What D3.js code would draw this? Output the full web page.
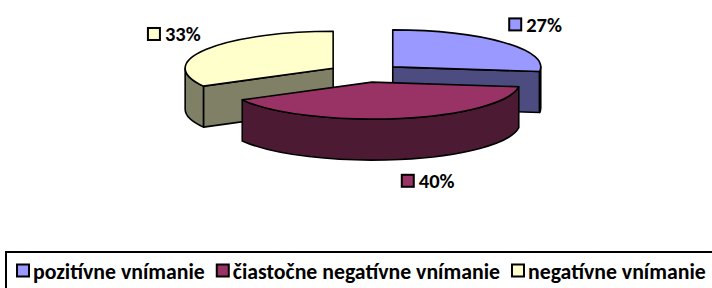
<!DOCTYPE html>
<html><head><meta charset="utf-8">
<script src="https://cdn.jsdelivr.net/npm/d3@7"></script>
<style>
html,body{margin:0;padding:0;background:#fff;}
svg{display:block;}
text{font-family:Carlito,Lato,"Open Sans",sans-serif;font-weight:bold;fill:#000;}
</style></head>
<body>
<svg id="c" width="712" height="288"></svg>
<script>
const categories = ["pozitívne vnímanie", "čiastočne negatívne vnímanie", "negatívne vnímanie"];
const values = [27, 40, 33];
const labels = ["27%", "40%", "33%"];
const topColors = ["#9999FF", "#993366", "#FFFFCC"];
const sideColors = ["#4C4C80", "#4D1A33", "#808066"];

const W = 712, H = 288;
const svg = d3.select("#c");
const cx = 365, cy = 73, rx = 148, ry = 37, depth = 41, explode = 0.25;

const pie = d3.pie().sort(null).value(d => d)(values);
const arcs = pie.map((p, i) => {
  const mid = (p.startAngle + p.endAngle) / 2;
  const ox = cx + explode * rx * Math.sin(mid);
  const oy = cy - explode * ry * Math.cos(mid);
  return {i, a0: p.startAngle, a1: p.endAngle, mid, ox, oy};
});
function pt(s, a, r = 1, dz = 0) {
  return [s.ox + r * rx * Math.sin(a), s.oy - r * ry * Math.cos(a) + dz];
}
function topPath(s) {
  const p0 = pt(s, s.a0), p1 = pt(s, s.a1);
  const large = (s.a1 - s.a0) > Math.PI ? 1 : 0;
  return `M${s.ox},${s.oy}L${p0}A${rx},${ry} 0 ${large} 1 ${p1}Z`;
}
function wallPath(s, b0, b1) {
  const p0 = pt(s, b0), p1 = pt(s, b1), q1 = pt(s, b1, 1, depth), q0 = pt(s, b0, 1, depth);
  const large = (b1 - b0) > Math.PI ? 1 : 0;
  return `M${p0}A${rx},${ry} 0 ${large} 1 ${p1}L${q1}A${rx},${ry} 0 ${large} 0 ${q0}Z`;
}
function radialPath(s, a) {
  const p = pt(s, a), q = pt(s, a, 1, depth);
  return `M${s.ox},${s.oy}L${p}L${q}L${s.ox},${s.oy + depth}Z`;
}

const order = arcs.slice().sort((a, b) => (-Math.cos(a.mid)) - (-Math.cos(b.mid)));
const g = svg.append("g");
const sw = 1.6;
order.forEach(s => {
  const gs = g.append("g");
  if (Math.cos(s.a0 - Math.PI / 2) < -1e-6)
    gs.append("path").attr("d", radialPath(s, s.a0)).attr("fill", sideColors[s.i]).attr("stroke", "#000").attr("stroke-width", sw).attr("stroke-linejoin", "round");
  if (Math.cos(s.a1 + Math.PI / 2) < -1e-6)
    gs.append("path").attr("d", radialPath(s, s.a1)).attr("fill", sideColors[s.i]).attr("stroke", "#000").attr("stroke-width", sw).attr("stroke-linejoin", "round");
  const b0 = Math.max(s.a0, Math.PI / 2), b1 = Math.min(s.a1, 3 * Math.PI / 2);
  if (b1 > b0)
    gs.append("path").attr("d", wallPath(s, b0, b1)).attr("fill", sideColors[s.i]).attr("stroke", "#000").attr("stroke-width", sw).attr("stroke-linejoin", "round");
  gs.append("path").attr("d", topPath(s)).attr("fill", topColors[s.i]).attr("stroke", "#000").attr("stroke-width", sw).attr("stroke-linejoin", "round");
});

// data labels
const fs = 20.5, mk = 12, gap = 4, kx = 1.04, ky = 1.45;
arcs.forEach(s => {
  const lg = svg.append("g");
  const t = lg.append("text").attr("font-size", fs).text(labels[s.i]);
  const tw = t.node().getComputedTextLength();
  const bw = mk + 2 + gap + tw, bh = 14;
  const sx = Math.sin(s.mid), cyv = Math.cos(s.mid);
  let px = s.ox + kx * rx * sx;
  let py = s.oy - ky * ry * cyv;
  let left = sx > 0.1 ? px : (sx < -0.1 ? px - bw : px - bw / 2);
  let topY = cyv > 0.1 ? py - bh : (cyv < -0.1 ? py + depth - 2 : py - bh / 2);
  lg.insert("rect", "text").attr("x", left + 1).attr("y", topY + (bh - mk) / 2).attr("width", mk).attr("height", mk)
    .attr("fill", topColors[s.i]).attr("stroke", "#000").attr("stroke-width", 2);
  t.attr("x", left + mk + 2 + gap).attr("y", topY + bh / 2 + 0.5).attr("dominant-baseline", "central");
});

// legend
const legX = 6, legY = 252;
svg.append("rect").attr("x", legX).attr("y", legY).attr("width", W + 10).attr("height", 60)
  .attr("fill", "none").attr("stroke", "#000").attr("stroke-width", 2);
const lfs = 21.8, itemGap = 12;
let x = 17;
categories.forEach((c, i) => {
  svg.append("rect").attr("x", x).attr("y", 264.5).attr("width", 12).attr("height", 12)
    .attr("fill", topColors[i]).attr("stroke", "#000").attr("stroke-width", 2);
  const t = svg.append("text").attr("x", x + 16).attr("y", 271).attr("font-size", lfs)
    .attr("dominant-baseline", "central").text(c);
  x += 16 + t.node().getComputedTextLength() + itemGap;
});
</script>
</body></html>
